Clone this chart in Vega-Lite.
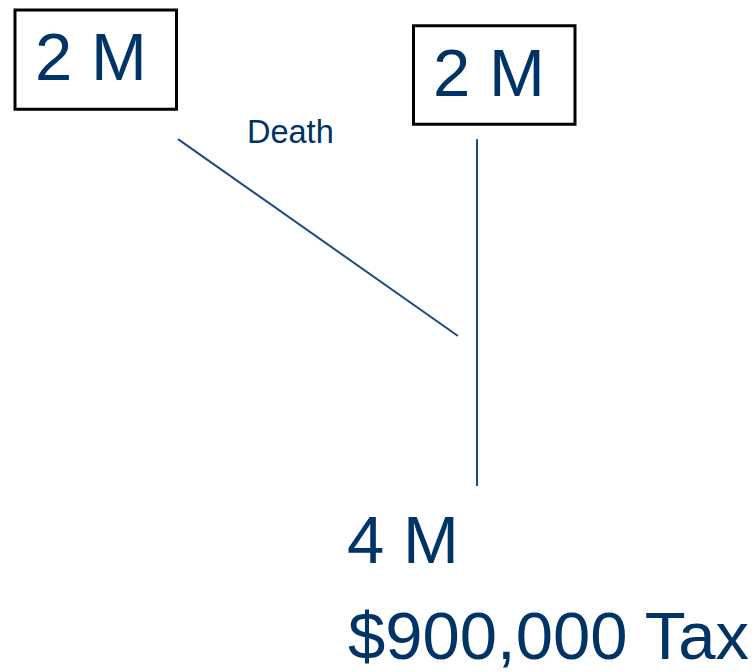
{
  "$schema": "https://vega.github.io/schema/vega-lite/v6.json",
  "width": 756,
  "height": 672,
  "autosize": {"type": "fit", "contains": "padding"},
  "padding": 0,
  "background": "white",
  "config": {"view": {"stroke": null}},
  "datasets": {
    "boxes": [
      {"x": 15, "x2": 176.5, "y": 10, "y2": 110},
      {"x": 413.5, "x2": 575, "y": 26, "y2": 125}
    ],
    "lines": [
      {"x": 178, "y": 140, "x2": 458, "y2": 338},
      {"x": 477, "y": 140, "x2": 477, "y2": 489}
    ],
    "bigtext": [
      {"label": "2 M", "x": 35, "y": 80},
      {"label": "2 M", "x": 433, "y": 97},
      {"label": "4 M", "x": 347, "y": 566},
      {"label": "$900,000 Tax", "x": 348, "y": 663}
    ],
    "smalltext": [
      {"label": "Death", "x": 247, "y": 144}
    ]
  },
  "layer": [
    {
      "data": {"name": "boxes"},
      "mark": {"type": "rect", "fill": "white", "stroke": "black", "strokeWidth": 3},
      "encoding": {
        "x": {"field": "x", "type": "quantitative", "scale": {"domain": [0, 756], "nice": false, "zero": false}, "axis": null},
        "x2": {"field": "x2"},
        "y": {"field": "y", "type": "quantitative", "scale": {"domain": [0, 672], "nice": false, "zero": false, "reverse": true}, "axis": null},
        "y2": {"field": "y2"}
      }
    },
    {
      "data": {"name": "lines"},
      "mark": {"type": "rule", "stroke": "#1a4c82", "strokeWidth": 2},
      "encoding": {
        "x": {"field": "x", "type": "quantitative"},
        "x2": {"field": "x2"},
        "y": {"field": "y", "type": "quantitative"},
        "y2": {"field": "y2"}
      }
    },
    {
      "data": {"name": "bigtext"},
      "mark": {"type": "text", "font": "Liberation Sans", "fontSize": 67, "fill": "#003366", "align": "left", "baseline": "alphabetic"},
      "encoding": {
        "x": {"field": "x", "type": "quantitative"},
        "y": {"field": "y", "type": "quantitative"},
        "text": {"field": "label"}
      }
    },
    {
      "data": {"name": "smalltext"},
      "mark": {"type": "text", "font": "Liberation Sans", "fontSize": 32.5, "fill": "#003366", "align": "left", "baseline": "alphabetic"},
      "encoding": {
        "x": {"field": "x", "type": "quantitative"},
        "y": {"field": "y", "type": "quantitative"},
        "text": {"field": "label"}
      }
    }
  ]
}
